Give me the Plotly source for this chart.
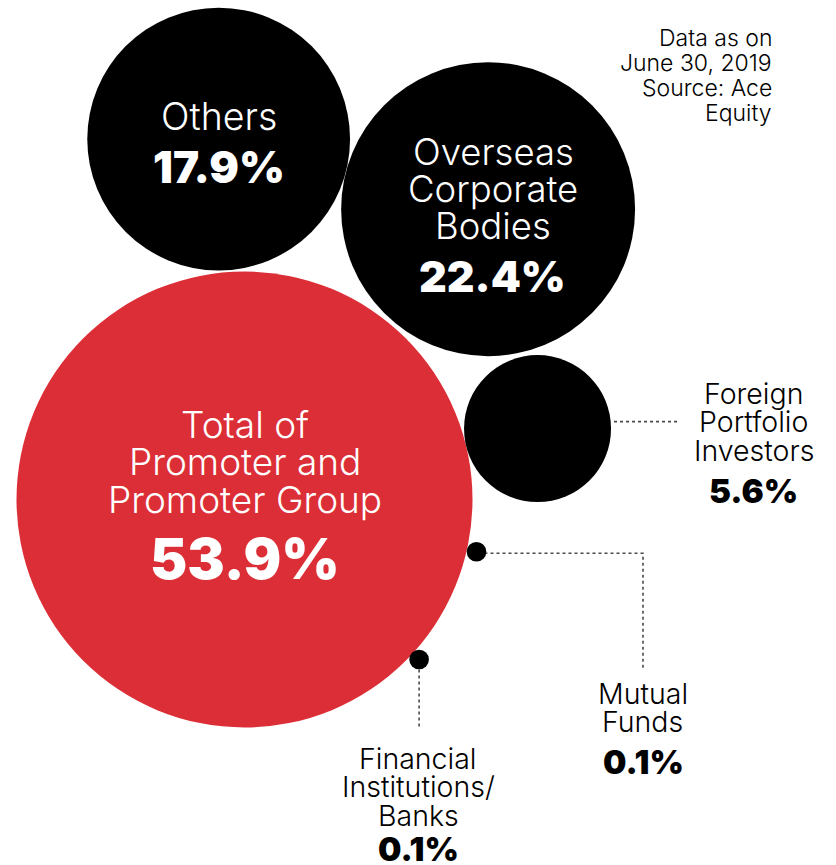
import math
import plotly.graph_objects as go

# Shareholding pattern (% of equity)
categories = [
    "Total of Promoter and Promoter Group",
    "Others",
    "Overseas Corporate Bodies",
    "Foreign Portfolio Investors",
    "Mutual Funds",
    "Financial Institutions/Banks",
]
shares = [53.9, 17.9, 22.4, 5.6, 0.1, 0.1]
label_lines = [
    ["Total of", "Promoter and", "Promoter Group"],
    ["Others"],
    ["Overseas", "Corporate", "Bodies"],
    ["Foreign", "Portfolio", "Investors"],
    ["Mutual", "Funds"],
    ["Financial", "Institutions/", "Banks"],
]
note_lines = ["Data as on", "June 30, 2019", "Source: Ace", "Equity"]

# ---- layout of the packed bubbles (pixel space, y grows downward) ----
W, H = 836, 865
PX_PER_SQRT = 228 / math.sqrt(53.9)          # bubble radius per sqrt(share)
radius = [PX_PER_SQRT * math.sqrt(v) for v in shares]

main_center = (244.5, 499.5)
# every other bubble sits against the main one: (angle in degrees, gap in px)
placement = {1: (-94.1, 2), 2: (-50.0, 4), 3: (-13.6, 0), 4: (12.7, 0), 5: (42.5, -1)}

centers = [main_center]
for i in range(1, len(shares)):
    ang, gap = placement[i]
    d = radius[0] + radius[i] + gap
    a = math.radians(ang)
    centers.append((main_center[0] + d * math.cos(a), main_center[1] + d * math.sin(a)))

xs = [c[0] for c in centers]
ys = [c[1] for c in centers]

RED = "#DC2E36"
BLACK = "#000000"
colors = [RED, BLACK, BLACK, BLACK, BLACK, BLACK]

fig = go.Figure()

# dotted leader lines
LEADER = dict(color="#4a4a4a", width=1.6, dash="dot")
fpi_x, fpi_y = xs[3], ys[3]
fig.add_trace(go.Scatter(x=[fpi_x + radius[3] + 3, 677], y=[fpi_y - 7, fpi_y - 7],
                         mode="lines", line=LEADER, hoverinfo="skip"))
mf_x, mf_y = xs[4], ys[4]
fig.add_trace(go.Scatter(x=[mf_x + 8, 643, 643], y=[mf_y + 1.5, mf_y + 1.5, 668],
                         mode="lines", line=LEADER, hoverinfo="skip"))
fi_x, fi_y = xs[5], ys[5]
fig.add_trace(go.Scatter(x=[fi_x, fi_x], y=[fi_y + 10, 727],
                         mode="lines", line=LEADER, hoverinfo="skip"))

# bubbles, area proportional to share
sizeref = max(shares) / (2 * radius[0] ** 2)
fig.add_trace(go.Scatter(
    x=xs, y=ys, mode="markers",
    marker=dict(size=shares, sizemode="area", sizeref=sizeref,
                color=colors, opacity=1, line=dict(width=0)),
    text=categories, hovertemplate="%{text}: %{marker.size}%<extra></extra>",
))

REG = "Inter"
annotations = []


def add_text(text, x, y, size, color, bold=False, xanchor="center"):
    annotations.append(dict(
        x=x, y=y, text=text, showarrow=False, xanchor=xanchor, yanchor="middle",
        xref="x", yref="y",
        font=dict(family=REG, size=size, color=color, weight=900 if bold else 300),
    ))


def pct(v):
    return f"{v}%"


# labels inside the bubbles
# main bubble
cx, cy = xs[0], ys[0]
for k, line in enumerate(label_lines[0]):
    add_text(line, cx, 424.5 + 37.3 * k, 37, "white")
add_text(pct(shares[0]), cx, 558.5, 56, "white", bold=True)

# Others
cx, cy = xs[1], ys[1]
add_text(label_lines[1][0], cx, 116.5, 37.5, "white")
add_text(pct(shares[1]), cx, 166.5, 44, "white", bold=True)

# Overseas Corporate Bodies
cx, cy = xs[2], ys[2]
for k, line in enumerate(label_lines[2]):
    add_text(line, cx + 5, 152 + 37 * k, 36.5, "white")
add_text(pct(shares[2]), cx + 4, 276, 43, "white", bold=True)

# Foreign Portfolio Investors (outside, right)
for k, line in enumerate(label_lines[3]):
    add_text(line, 753.5, 393 + 28.6 * k, 28.5, BLACK)
add_text(pct(shares[3]), 753, 491, 33, BLACK, bold=True)

# Mutual Funds
for k, line in enumerate(label_lines[4]):
    add_text(line, 642.5, 693 + 28.7 * k, 28.5, BLACK)
add_text(pct(shares[4]), 643, 762, 33, BLACK, bold=True)

# Financial Institutions/Banks
for k, line in enumerate(label_lines[5]):
    add_text(line, 418, 758.3 + 28.5 * k, 28.5, BLACK)
add_text(pct(shares[5]), 418, 849, 33, BLACK, bold=True)

# source note, right aligned
for k, line in enumerate(note_lines):
    add_text(line, 774, 37.5 + 25 * k, 23, BLACK, xanchor="right")

fig.update_layout(
    width=W, height=H,
    margin=dict(l=0, r=0, t=0, b=0),
    paper_bgcolor="white", plot_bgcolor="white",
    showlegend=False,
    xaxis=dict(range=[0, W], visible=False, fixedrange=True),
    yaxis=dict(range=[H, 0], visible=False, fixedrange=True),
    annotations=annotations,
)

fig.write_html("out.html")
